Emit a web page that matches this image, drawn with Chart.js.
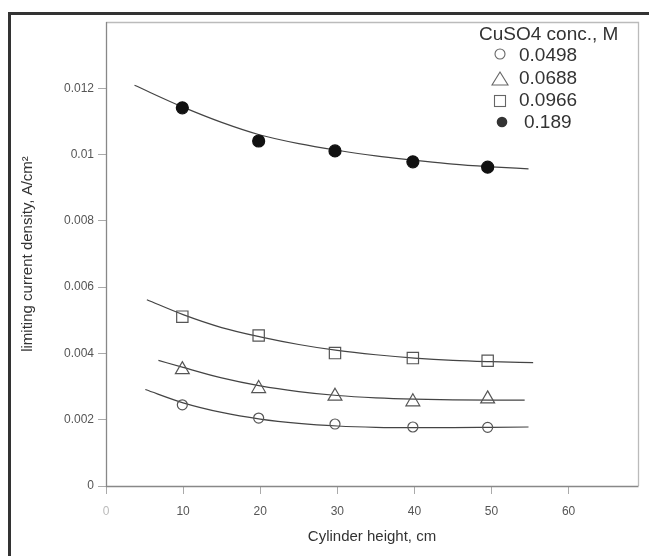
<!DOCTYPE html>
<html>
<head>
<meta charset="utf-8">
<script src="https://cdn.jsdelivr.net/npm/chart.js@4.4.0/dist/chart.umd.min.js"></script>
<style>
  html, body { margin: 0; padding: 0; background: #fff; }
  #wrap { width: 649px; height: 556px; }
</style>
</head>
<body>
<div id="wrap"><canvas id="c" width="649" height="556"></canvas></div>
<script>
// ---- data --------------------------------------------------------------
const xTickLabels = ['0', '10', '20', '30', '40', '50', '60'];
const yTickLabels = ['0', '0.002', '0.004', '0.006', '0.008', '0.01', '0.012'];
const concLabels  = ['0.0498', '0.0688', '0.0966', '0.189'];
const legendTitle = 'CuSO4 conc., M';

// measured points (cylinder height, cm)
const heights = [9.9, 19.8, 29.7, 39.8, 49.5];
const pts0498 = [0.00245, 0.00205, 0.00187, 0.00178, 0.00177];
const pts0688 = [0.00351, 0.00294, 0.00271, 0.00254, 0.00263];
const pts0966 = [0.00511, 0.00454, 0.00401, 0.00386, 0.00378];
const pts189  = [0.01141, 0.01041, 0.01011, 0.00978, 0.00962];

// fitted curves, sampled along the drawn lines
const fit0498X = [5.1, 10, 15, 20, 25, 30, 35, 40, 45, 50, 54.8];
const fit0498Y = [0.00291, 0.00251, 0.00222, 0.00202, 0.00189, 0.00181, 0.00177, 0.00176, 0.00176, 0.00177, 0.00178];
const fit0688X = [6.8, 10, 15, 20, 25, 30, 35, 40, 45, 50, 54.3];
const fit0688Y = [0.00379, 0.00358, 0.00326, 0.00302, 0.00285, 0.00273, 0.00266, 0.00262, 0.00260, 0.00259, 0.00259];
const fit0966X = [5.3, 10, 15, 20, 25, 30, 35, 40, 45, 50, 55.4];
const fit0966Y = [0.00562, 0.00517, 0.00478, 0.00450, 0.00427, 0.00409, 0.00396, 0.00386, 0.00379, 0.00375, 0.00372];
const fit189X  = [3.7, 10, 15, 20, 25, 30, 35, 40, 45, 50, 54.8];
const fit189Y  = [0.01209, 0.01143, 0.01097, 0.01059, 0.01033, 0.01013, 0.00996, 0.00983, 0.00971, 0.00963, 0.00957];

// ---- helpers ------------------------------------------------------------
const FONT = '"Liberation Sans", Arial, sans-serif';
const zip = (xs, ys) => xs.map((x, i) => ({ x: x, y: ys[i] }));

function fitLine(xs, ys) {
  return {
    data: zip(xs, ys),
    showLine: true,
    borderColor: '#444',
    borderWidth: 1.2,
    pointRadius: 0,
    cubicInterpolationMode: 'monotone',
    order: 2
  };
}
function marks(ys, style, radius, filled) {
  return {
    data: zip(heights, ys),
    showLine: false,
    pointStyle: style,
    pointRadius: radius,
    pointBorderWidth: 1.2,
    pointBorderColor: filled ? '#111' : '#555',
    pointBackgroundColor: filled ? '#111' : 'rgba(0,0,0,0)',
    order: 1
  };
}

// outer frame + plot box
const framePlugin = {
  id: 'frame',
  beforeDraw(chart) {
    const ctx = chart.ctx;
    ctx.save();
    ctx.fillStyle = '#fff';
    ctx.fillRect(0, 0, chart.width, chart.height);
    ctx.strokeStyle = '#333';
    ctx.lineWidth = 3;
    ctx.beginPath();
    ctx.moveTo(9.5, 556); ctx.lineTo(9.5, 13.5); ctx.lineTo(649, 13.5);
    ctx.stroke();
    ctx.restore();
  },
  afterDatasetsDraw(chart) {
    const a = chart.chartArea, ctx = chart.ctx;
    ctx.save();
    ctx.lineWidth = 1.3;
    ctx.strokeStyle = '#bbb';
    ctx.beginPath();
    ctx.moveTo(a.left, a.top + 0.5); ctx.lineTo(a.right + 0.5, a.top + 0.5); ctx.lineTo(a.right + 0.5, a.bottom);
    ctx.stroke();
    ctx.strokeStyle = '#888';
    ctx.beginPath();
    ctx.moveTo(a.left + 0.5, a.top); ctx.lineTo(a.left + 0.5, a.bottom + 0.5); ctx.lineTo(a.right + 0.5, a.bottom + 0.5);
    ctx.stroke();
    ctx.restore();
  }
};

// legend in the upper right corner of the plot
const legendPlugin = {
  id: 'cornerLegend',
  afterDraw(chart) {
    const ctx = chart.ctx;
    ctx.save();
    ctx.font = '19px ' + FONT;
    ctx.fillStyle = '#333';
    ctx.textBaseline = 'middle';
    ctx.fillText(legendTitle, 479, 35);
    const rows = [56, 79, 101, 123];
    const textX = [519, 519, 519, 524];
    ctx.strokeStyle = '#666';
    ctx.lineWidth = 1.1;
    // circle
    ctx.beginPath(); ctx.arc(500, 54, 5, 0, Math.PI * 2); ctx.stroke();
    // triangle
    ctx.beginPath(); ctx.moveTo(500, 72); ctx.lineTo(508, 85); ctx.lineTo(492, 85); ctx.closePath(); ctx.stroke();
    // square
    ctx.strokeRect(494.5, 95.5, 11, 11);
    // filled circle
    ctx.fillStyle = '#333';
    ctx.beginPath(); ctx.arc(502, 122, 5.3, 0, Math.PI * 2); ctx.fill();
    concLabels.forEach((t, i) => ctx.fillText(t, textX[i], rows[i]));
    ctx.restore();
  }
};

// ---- chart --------------------------------------------------------------
const ctx = document.getElementById('c').getContext('2d');
new Chart(ctx, {
  type: 'scatter',
  data: {
    datasets: [
      fitLine(fit0498X, fit0498Y),
      fitLine(fit0688X, fit0688Y),
      fitLine(fit0966X, fit0966Y),
      fitLine(fit189X, fit189Y),
      marks(pts0498, 'circle', 5, false),
      marks(pts0688, 'triangle', 8, false),
      marks(pts0966, 'rect', 8, false),
      marks(pts189, 'circle', 6, true)
    ]
  },
  options: {
    responsive: false,
    animation: false,
    layout: { padding: { top: 22, right: 11, left: 0, bottom: 0 } },
    plugins: { legend: { display: false }, tooltip: { enabled: false } },
    scales: {
      x: {
        type: 'linear',
        min: 0, max: 69,
        afterFit: s => { s.height = 70; },
        border: { display: false },
        grid: { drawOnChartArea: false, tickLength: 8, color: '#aaa' },
        ticks: {
          stepSize: 10,
          includeBounds: false,
          padding: 10,
          font: { family: FONT, size: 12 },
          color: c => c.index === 0 ? '#bbb' : '#555',
          callback: (v, i) => xTickLabels[i]
        },
        title: {
          display: true,
          text: 'Cylinder height, cm',
          font: { family: FONT, size: 15 },
          color: '#333',
          padding: { top: 0, bottom: 10 }
        }
      },
      y: {
        min: 0, max: 0.014,
        afterFit: s => { s.width = 106; },
        afterBuildTicks: s => { s.ticks = s.ticks.filter(t => t.value < 0.0131); },
        border: { display: false },
        grid: { drawOnChartArea: false, tickLength: 8, color: '#aaa' },
        ticks: {
          stepSize: 0.002,
          padding: 4,
          font: { family: FONT, size: 12 },
          color: '#555',
          callback: (v, i) => yTickLabels[i]
        },
        title: {
          display: true,
          text: 'limiting current density, A/cm²',
          font: { family: FONT, size: 15 },
          color: '#333',
          padding: { top: 19, bottom: 0 }
        }
      }
    }
  },
  plugins: [framePlugin, legendPlugin]
});
</script>
</body>
</html>
